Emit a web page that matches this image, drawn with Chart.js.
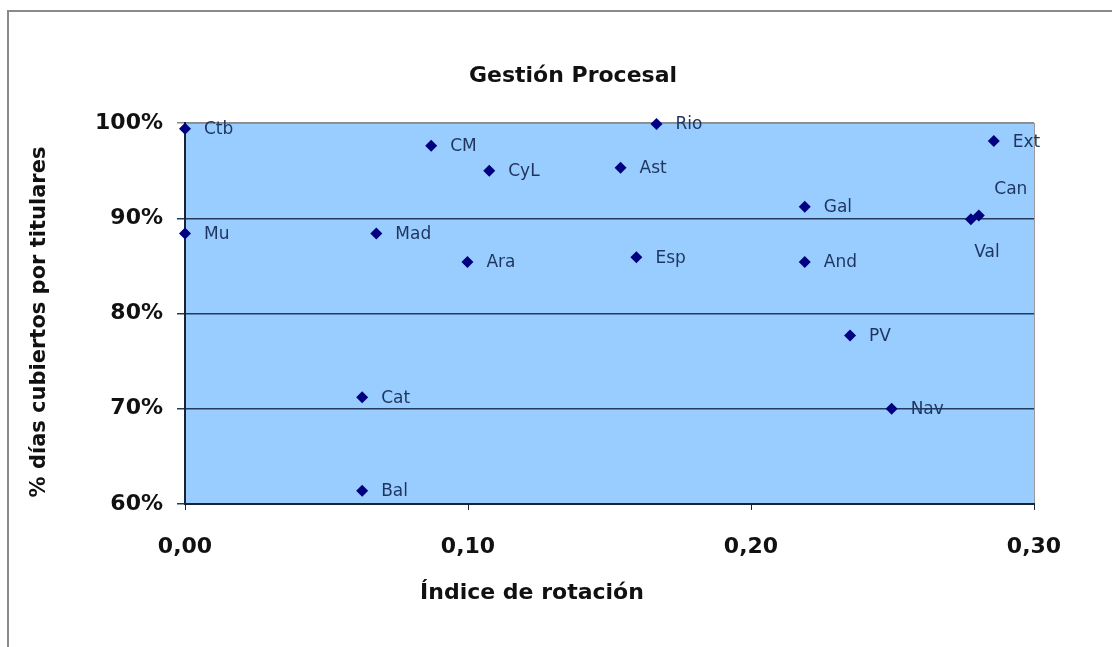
<!DOCTYPE html>
<html>
<head>
<meta charset="utf-8">
<script src="https://cdn.jsdelivr.net/npm/chart.js@4"></script>
<style>
  html, body { margin: 0; padding: 0; background: #fff; }
  #wrap { width: 1112px; height: 647px; }
</style>
</head>
<body>
<div id="wrap"><canvas id="scatter"></canvas></div>
<script>
// comunidades y valores
const regions = ['Ctb', 'CM', 'CyL', 'Rio', 'Ast', 'Ext', 'Gal', 'Can', 'Val', 'Mu', 'Mad', 'Ara', 'Esp', 'And', 'PV', 'Nav', 'Cat', 'Bal']
const rotation = [0.000, 0.087, 0.1075, 0.1666, 0.1539, 0.2858, 0.219, 0.2805, 0.2777, 0.000, 0.0676, 0.0998, 0.1595, 0.219, 0.235, 0.2497, 0.0626, 0.0626]
const coverage = [99.4, 97.6, 95.0, 99.9, 95.3, 98.1, 91.2, 90.3, 89.9, 88.4, 88.4, 85.4, 85.9, 85.4, 77.7, 70.0, 71.2, 61.4]
const xTickLabels = ['0,00', '0,10', '0,20', '0,30']
const yTickLabels = ['60%', '70%', '80%', '90%', '100%']

const chartTitle = 'Gestión Procesal'
const xTitle = 'Índice de rotación'
const yTitle = '% días cubiertos por titulares'

const points = rotation.map((r, i) => ({ x: r, y: coverage[i] }))
const FONT = "'DejaVu Sans', Verdana, sans-serif"

// fondo, marco y textos
const decor = {
  id: 'decor',
  beforeDraw(chart) {
    const { ctx, chartArea: a } = chart
    ctx.save()
    ctx.fillStyle = '#ffffff'
    ctx.fillRect(0, 0, chart.width, chart.height)
    ctx.strokeStyle = '#8a8a8a'
    ctx.lineWidth = 2
    ctx.strokeRect(8, 11, chart.width + 20, chart.height + 20)
    ctx.fillStyle = '#99ccff'
    ctx.fillRect(a.left, a.top, a.right - a.left, a.bottom - a.top)
    ctx.strokeStyle = '#9a9a9a'
    ctx.lineWidth = 1
    ctx.strokeRect(a.left + 0.5, a.top + 0.5, a.right - a.left, a.bottom - a.top)
    ctx.restore()
  },
  afterDraw(chart) {
    const { ctx } = chart
    ctx.save()
    ctx.fillStyle = '#111'
    ctx.textAlign = 'center'
    ctx.textBaseline = 'middle'
    ctx.font = 'bold 22px ' + FONT
    ctx.fillText(chartTitle, 573, 76)
    ctx.font = 'bold 22px ' + FONT
    ctx.fillText(xTitle, 532, 593)
    ctx.font = 'bold 21px ' + FONT
    ctx.translate(40, 322)
    ctx.rotate(-Math.PI / 2)
    ctx.fillText(yTitle, 0, 0)
    ctx.restore()
  },
  afterDatasetsDraw(chart) {
    const { ctx } = chart
    const meta = chart.getDatasetMeta(0)
    ctx.save()
    ctx.font = '17px ' + FONT
    ctx.fillStyle = '#1d355f'
    ctx.textBaseline = 'middle'
    meta.data.forEach((el, i) => {
      const name = regions[i]
      if (name === 'Can') {
        ctx.textAlign = 'center'
        ctx.fillText(name, el.x + 32, el.y - 26)
      } else if (name === 'Val') {
        ctx.textAlign = 'center'
        ctx.fillText(name, el.x + 16, el.y + 33)
      } else {
        ctx.textAlign = 'left'
        ctx.fillText(name, el.x + 19, el.y + 1)
      }
    })
    ctx.restore()
  }
}

const dark = '#1a2238'

const config = {
  type: 'scatter',
  data: {
    datasets: [{
      label: 'Gestión Procesal',
      data: points,
      pointStyle: 'rectRot',
      pointRadius: 6,
      pointHoverRadius: 6,
      backgroundColor: '#000080',
      borderColor: '#000080',
      borderWidth: 0,
      clip: false
    }]
  },
  options: {
    responsive: true,
    maintainAspectRatio: false,
    animation: false,
    layout: {
      padding: { left: 0, top: 123, right: 78, bottom: 73 }
    },
    plugins: {
      legend: { display: false },
      tooltip: { enabled: false },
      title: { display: false }
    },
    scales: {
      x: {
        type: 'linear',
        min: 0,
        max: 0.3,
        afterFit(scale) { scale.height = 70 },
        afterBuildTicks(scale) {
          scale.ticks = xTickLabels.map((t, i) => ({ value: i * 0.1 }))
        },
        ticks: {
          padding: 24,
          color: '#111',
          font: { family: FONT, size: 22, weight: 'bold' },
          callback: (v, i) => xTickLabels[i]
        },
        grid: {
          drawOnChartArea: false,
          tickLength: 6,
          color: dark
        },
        border: { color: dark, width: 2 }
      },
      y: {
        type: 'linear',
        min: 60,
        max: 100,
        afterFit(scale) { scale.width = 185 },
        afterBuildTicks(scale) {
          scale.ticks = yTickLabels.map((t, i) => ({ value: 60 + i * 10 }))
        },
        ticks: {
          padding: 14,
          color: '#111',
          font: { family: FONT, size: 22, weight: 'bold' },
          callback: (v, i) => yTickLabels[i]
        },
        grid: {
          tickLength: 8,
          lineWidth: 1.5,
          color: (c) => (c.tick && c.tick.value === 100) ? '#8a8a8a' : '#243a5a'
        },
        border: { color: dark, width: 2 }
      }
    }
  },
  plugins: [decor]
}

new Chart(document.getElementById('scatter'), config)
</script>
</body>
</html>
